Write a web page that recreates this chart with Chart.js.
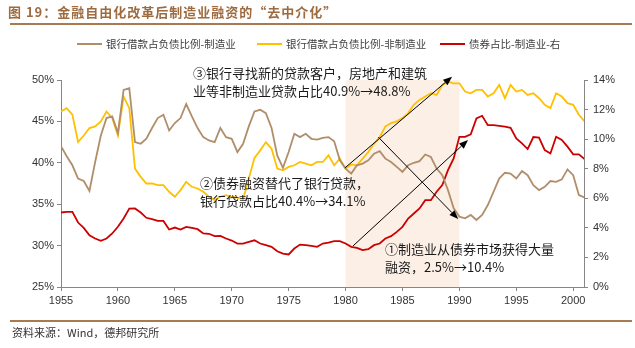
<!DOCTYPE html>
<html>
<head>
<meta charset="utf-8">
<script src="https://cdn.jsdelivr.net/npm/chart.js@4.4.0/dist/chart.umd.min.js"></script>
<style>
body{margin:0;background:#fff;}
#marco{position:relative;width:635px;height:348px;overflow:hidden;font-family:"Noto Sans CJK SC",sans-serif;}
#grafico{position:absolute;left:0;top:0;}
.titulo{position:absolute;left:8px;top:3px;font-size:13px;font-weight:bold;color:#9e6b3f;letter-spacing:1px;white-space:nowrap;line-height:18px}
.regla{position:absolute;left:10px;width:622px;height:2px;background:#a97a50}
.nota{position:absolute;font-size:13px;line-height:18px;color:#1a1a1a;white-space:nowrap}
.fuente{position:absolute;left:12px;top:324px;font-size:11px;line-height:16px;color:#333;white-space:nowrap}
</style>
</head>
<body>
<div id="marco">
  <canvas id="grafico" width="635" height="348" style="width:635px;height:348px"></canvas>
  <div class="titulo">图 19：金融自由化改革后制造业融资的“去中介化”</div>
  <div class="regla" style="top:23px"></div>
  <div class="nota" style="left:193px;top:64px">③银行寻找新的贷款客户，房地产和建筑<br>业等非制造业贷款占比40.9%→48.8%</div>
  <div class="nota" style="left:200px;top:174px">②债券融资替代了银行贷款，<br>银行贷款占比40.4%→34.1%</div>
  <div class="nota" style="left:385px;top:240px">①制造业从债券市场获得大量<br>融资，2.5%→10.4%</div>
  <div class="regla" style="top:320px"></div>
  <div class="fuente">资料来源：Wind，德邦研究所</div>
</div>
<script>
// años (semestral)
const anios=[1955,1955.5,1956,1956.5,1957,1957.5,1958,1958.5,1959,1959.5,
  1960,1960.5,1961,1961.5,1962,1962.5,1963,1963.5,1964,1964.5,
  1965,1965.5,1966,1966.5,1967,1967.5,1968,1968.5,1969,1969.5,
  1970,1970.5,1971,1971.5,1972,1972.5,1973,1973.5,1974,1974.5,
  1975,1975.5,1976,1976.5,1977,1977.5,1978,1978.5,1979,1979.5,
  1980,1980.5,1981,1981.5,1982,1982.5,1983,1983.5,1984,1984.5,
  1985,1985.5,1986,1986.5,1987,1987.5,1988,1988.5,1989,1989.5,
  1990,1990.5,1991,1991.5,1992,1992.5,1993,1993.5,1994,1994.5,
  1995,1995.5,1996,1996.5,1997,1997.5,1998,1998.5,1999,1999.5,
  2000,2000.5,2001]

// 银行借款占负债比例-制造业 (%)
const prestamosManuf=[42.0,40.8,39.7,38.1,37.8,36.6,40.1,43.3,45.4,45.6,
  43.6,48.8,49.0,42.5,42.3,42.9,44.2,45.4,45.8,43.9,
  44.8,45.4,47.1,45.6,44.2,43.1,42.7,42.5,44.2,43.1,
  42.9,41.3,42.3,44.4,46.2,46.4,46.0,44.2,40.9,39.4,
  41.3,43.5,43.1,43.5,42.9,42.8,43.0,43.1,42.6,40.3,
  39.3,38.7,39.7,39.9,40.3,41.1,41.4,40.5,40.1,39.5,
  38.9,39.7,40.0,40.2,41.0,40.7,39.3,38.5,36.7,34.5,
  33.5,33.3,33.7,33.1,33.7,34.9,36.5,38.1,38.8,38.7,
  38.1,39.0,38.5,37.3,36.7,37.1,37.8,37.7,38.0,39.2,
  38.5,36.1,35.8]

// 银行借款占负债比例-非制造业 (%)
const prestamosNoManuf=[46.2,46.6,45.8,42.5,43.3,44.2,44.4,45.0,46.2,45.4,
  43.3,48.0,46.6,39.3,38.3,37.5,37.5,37.3,37.3,36.5,
  35.9,36.7,37.7,37.1,36.9,36.5,35.9,35.5,35.9,36.1,
  35.9,35.8,35.6,38.1,40.6,41.5,42.5,41.7,39.3,39.1,
  39.5,39.7,40.1,39.9,39.7,40.1,40.1,40.9,39.7,40.5,
  39.3,39.8,39.7,40.5,41.3,42.3,43.1,44.4,44.8,45.0,
  45.4,46.0,47.0,47.6,48.0,48.4,48.2,49.4,49.8,49.6,
  49.6,48.6,48.4,48.8,48.8,48.0,48.4,49.4,47.8,49.4,
  48.6,48.8,48.2,48.4,47.8,47.0,46.6,48.4,48.0,47.2,
  47.0,45.8,45.0]

// 债券占比-制造业 (%, eje derecho)
const bonosManuf=[5.04,5.08,5.08,4.36,4.0,3.5,3.28,3.12,3.28,3.62,
  4.07,4.63,5.3,5.31,5.04,4.68,4.59,4.47,4.47,3.89,
  4.02,3.89,4.07,4.0,3.91,3.62,3.6,3.44,3.46,3.28,
  3.14,2.94,2.94,3.05,3.16,2.94,2.83,2.72,2.42,2.26,
  2.2,2.6,2.87,2.83,2.78,2.72,2.94,3.0,3.1,3.1,
  2.94,2.72,2.65,2.49,2.56,2.83,2.94,3.28,3.44,3.73,
  4.07,4.63,4.97,5.31,5.87,5.87,6.44,6.89,7.9,8.7,
  10.16,10.16,10.32,11.4,11.58,10.95,10.95,10.9,10.84,10.77,
  10.05,9.71,9.33,10.14,10.1,9.26,9.03,10.16,9.94,9.49,
  8.97,8.97,8.65]

const etiquetas=['银行借款占负债比例-制造业','银行借款占负债比例-非制造业','债券占比-制造业-右']
const colores=['#b08e6b','#ffc000','#cc0000']

// periodo sombreado y flechas (en coordenadas de datos)
const periodo=[1980,1990]
const flechas=[
  {eje:'y2',desde:[1980.66,2.78],hasta:[1990.76,9.94]},
  {eje:'y',desde:[1979.96,39.4],hasta:[1989.36,50.4]},
  {eje:'y',desde:[1982.88,43.1],hasta:[1989.9,33.2]}
]
const leyendaX=[77,257,440]

function serie(valores){
  return valores.map((v,i)=>({x:anios[i],y:v}))
}

const sombra={
  id:'sombra',
  beforeDatasetsDraw(chart){
    const {ctx,chartArea,scales}=chart
    const x1=scales.x.getPixelForValue(periodo[0])
    const x2=scales.x.getPixelForValue(periodo[1])
    ctx.save()
    ctx.fillStyle='#fcefe6'
    ctx.fillRect(x1,chartArea.top,x2-x1,chartArea.bottom-chartArea.top)
    ctx.restore()
  }
}

const dibujoFlechas={
  id:'flechas',
  afterDatasetsDraw(chart){
    const {ctx,scales}=chart
    ctx.save()
    ctx.strokeStyle='#000'
    ctx.fillStyle='#000'
    ctx.lineWidth=1
    flechas.forEach(f=>{
      const x1=scales.x.getPixelForValue(f.desde[0])
      const y1=scales[f.eje].getPixelForValue(f.desde[1])
      const x2=scales.x.getPixelForValue(f.hasta[0])
      const y2=scales[f.eje].getPixelForValue(f.hasta[1])
      const ang=Math.atan2(y2-y1,x2-x1)
      const largo=9, ancho=3.5
      const bx=x2-largo*Math.cos(ang), by=y2-largo*Math.sin(ang)
      ctx.beginPath()
      ctx.moveTo(x1,y1)
      ctx.lineTo(bx,by)
      ctx.stroke()
      ctx.beginPath()
      ctx.moveTo(x2,y2)
      ctx.lineTo(bx+ancho*Math.sin(ang),by-ancho*Math.cos(ang))
      ctx.lineTo(bx-ancho*Math.sin(ang),by+ancho*Math.cos(ang))
      ctx.closePath()
      ctx.fill()
    })
    ctx.restore()
  }
}

const leyenda={
  id:'leyenda',
  afterDraw(chart){
    const {ctx}=chart
    ctx.save()
    ctx.font='10.5px "Noto Sans CJK SC"'
    ctx.textBaseline='middle'
    chart.data.datasets.forEach((d,i)=>{
      const x=leyendaX[i]
      ctx.fillStyle=d.borderColor
      ctx.fillRect(x,43,25,2)
      ctx.fillStyle='#404040'
      ctx.fillText(d.label,x+29,44)
    })
    ctx.restore()
  }
}

const fuenteEjes={family:'"Liberation Sans", Arial, sans-serif',size:11}
const gris='#868686'

new Chart(document.getElementById('grafico'),{
  type:'line',
  data:{
    datasets:[
      {label:etiquetas[0],data:serie(prestamosManuf),borderColor:colores[0],yAxisID:'y'},
      {label:etiquetas[1],data:serie(prestamosNoManuf),borderColor:colores[1],yAxisID:'y'},
      {label:etiquetas[2],data:serie(bonosManuf),borderColor:colores[2],yAxisID:'y2'}
    ]
  },
  options:{
    responsive:false,
    animation:false,
    devicePixelRatio:1,
    layout:{padding:{top:80,left:0,right:0,bottom:0}},
    elements:{line:{borderWidth:1.8,tension:0},point:{radius:0}},
    plugins:{legend:{display:false},tooltip:{enabled:false}},
    scales:{
      x:{
        type:'linear',min:1955,max:2000.95,
        grid:{drawOnChartArea:false,tickLength:4,color:gris},
        border:{color:gris},
        ticks:{stepSize:5,includeBounds:false,autoSkip:false,maxRotation:0,padding:3,color:'#333',font:fuenteEjes,callback:v=>String(v)},
        afterFit:s=>{s.height=61}
      },
      y:{
        position:'left',min:25,max:50,
        grid:{drawOnChartArea:false,tickLength:4,color:gris},
        border:{color:gris},
        ticks:{stepSize:5,padding:3,color:'#333',font:fuenteEjes,callback:v=>v+'%'},
        afterFit:s=>{s.width=61}
      },
      y2:{
        position:'right',min:0,max:14,
        grid:{drawOnChartArea:false,tickLength:4,color:gris},
        border:{color:gris},
        ticks:{stepSize:2,padding:5,color:'#333',font:fuenteEjes,callback:v=>v+'%'},
        afterFit:s=>{s.width=51}
      }
    }
  },
  plugins:[sombra,dibujoFlechas,leyenda]
})
</script>
</body>
</html>
